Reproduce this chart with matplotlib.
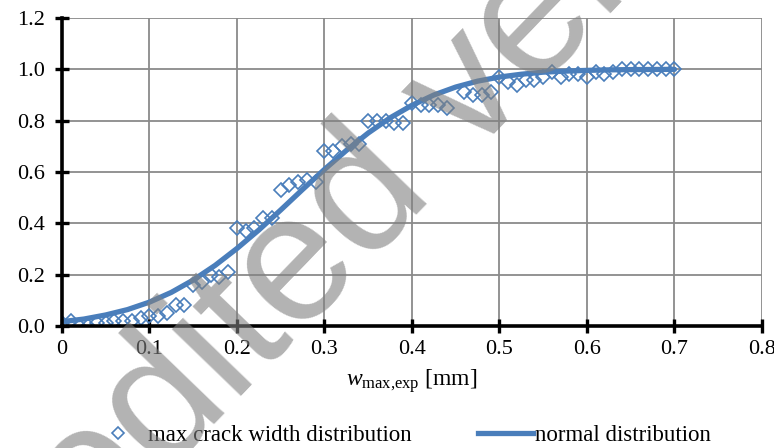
import matplotlib
matplotlib.use("Agg")
import matplotlib.pyplot as plt
from matplotlib.lines import Line2D

# ---- data ----
crack_x = [0.00, 0.01, 0.02, 0.03, 0.04, 0.05, 0.06, 0.07, 0.08, 0.09,
           0.10, 0.11, 0.12, 0.13, 0.14, 0.15, 0.16, 0.17, 0.18, 0.19,
           0.20, 0.21, 0.22, 0.23, 0.24, 0.25, 0.26, 0.27, 0.28, 0.29,
           0.30, 0.31, 0.32, 0.33, 0.34, 0.35, 0.36, 0.37, 0.38, 0.39,
           0.40, 0.41, 0.42, 0.43, 0.44, 0.46, 0.47, 0.48, 0.49, 0.50,
           0.51, 0.52, 0.53, 0.54, 0.55, 0.56, 0.57, 0.58, 0.59, 0.60,
           0.61, 0.62, 0.63, 0.64, 0.65, 0.66, 0.67, 0.68, 0.69, 0.70]
crack_p = [0.01, 0.02, 0.00, 0.00, 0.01, 0.01, 0.02, 0.02, 0.02, 0.03,
           0.04, 0.04, 0.05, 0.08, 0.08, 0.16, 0.17, 0.20, 0.19, 0.21,
           0.38, 0.37, 0.38, 0.42, 0.42, 0.53, 0.55, 0.56, 0.57, 0.56,
           0.68, 0.68, 0.70, 0.71, 0.71, 0.80, 0.80, 0.80, 0.79, 0.79,
           0.87, 0.86, 0.86, 0.86, 0.85, 0.91, 0.90, 0.90, 0.91, 0.97,
           0.95, 0.94, 0.96, 0.96, 0.97, 0.99, 0.97, 0.98, 0.98, 0.97,
           0.99, 0.98, 0.99, 1.00, 1.00, 1.00, 1.00, 1.00, 1.00, 1.00]

normal_x = [0.000, 0.025, 0.050, 0.075, 0.100, 0.125, 0.150, 0.175, 0.200,
            0.225, 0.250, 0.275, 0.300, 0.325, 0.350, 0.375, 0.400, 0.425,
            0.450, 0.475, 0.500, 0.525, 0.550, 0.575, 0.600, 0.625, 0.650,
            0.675, 0.700]
normal_p = [0.017, 0.027, 0.043, 0.064, 0.093, 0.131, 0.179, 0.236, 0.302,
            0.374, 0.452, 0.532, 0.610, 0.684, 0.752, 0.811, 0.860, 0.900,
            0.931, 0.954, 0.970, 0.981, 0.989, 0.993, 0.996, 0.998, 0.999,
            0.9995, 1.000]

x_ticks = [0, 0.1, 0.2, 0.3, 0.4, 0.5, 0.6, 0.7, 0.8]
x_tick_labels = ["0", "0.1", "0.2", "0.3", "0.4", "0.5", "0.6", "0.7", "0.8"]
y_ticks = [0.0, 0.2, 0.4, 0.6, 0.8, 1.0, 1.2]
y_tick_labels = ["0.0", "0.2", "0.4", "0.6", "0.8", "1.0", "1.2"]

label_points = "max crack width distribution"
label_line = "normal distribution"
watermark = "Unedited version"

# ---- style ----
plt.rcParams["font.family"] = ["Liberation Serif", "DejaVu Serif"]
plt.rcParams["mathtext.fontset"] = "custom"
plt.rcParams["mathtext.rm"] = "Liberation Serif"
plt.rcParams["mathtext.it"] = "Liberation Serif:italic"

blue = "#4a7ebb"
fs = 16

fig = plt.figure(figsize=(7.74, 4.48), dpi=100)
ax = fig.add_axes([0.080, 0.2723, 0.9845 - 0.080, 0.9598 - 0.2723])

ax.plot(crack_x, crack_p, linestyle="none", marker="D", markersize=6.8,
        markerfacecolor="none", markeredgecolor=blue, markeredgewidth=1.2,
        zorder=3)
ax.plot(normal_x, normal_p, color=blue, linewidth=3.8, zorder=4,
        solid_capstyle="round")

ax.set_xlim(0, 0.8)
ax.set_ylim(0, 1.2)
ax.set_xticks(x_ticks)
ax.set_xticklabels(x_tick_labels)
ax.set_yticks(y_ticks)
ax.set_yticklabels(y_tick_labels)

ax.grid(True, color="#8a8a8a", linewidth=1.3, zorder=0)
ax.set_axisbelow(True)
for s in ["top", "right"]:
    ax.spines[s].set_visible(False)
for s in ["left", "bottom"]:
    ax.spines[s].set_linewidth(2.6)
    ax.spines[s].set_color("black")
    ax.spines[s].set_zorder(5)

ax.tick_params(axis="both", direction="inout", length=10, width=2.4,
               labelsize=fs, color="black")
ax.tick_params(axis="y", pad=7)
ax.tick_params(axis="x", pad=5)

ax.set_xlabel(r"$w_{\mathrm{max{,}exp}}$ [mm]", fontsize=fs + 1, labelpad=6)

handles = [
    Line2D([], [], linestyle="none", marker="D", markersize=6.2,
           markerfacecolor="none", markeredgecolor=blue, markeredgewidth=1.2),
    Line2D([], [], color=blue, linewidth=3.8),
]
fig.legend(handles, [label_points, label_line], loc="center",
           bbox_to_anchor=(0.518, 0.029), ncol=2, frameon=False,
           fontsize=fs + 0.5, handlelength=2.4, handletextpad=0.1,
           columnspacing=2.9, numpoints=1)

fig.text(0.478, 0.565, watermark, fontsize=130, family="Liberation Sans",
         color="#808080", alpha=0.6, rotation=46, ha="center", va="center",
         rotation_mode="anchor", zorder=10)

fig.savefig("out.png", dpi=100)
